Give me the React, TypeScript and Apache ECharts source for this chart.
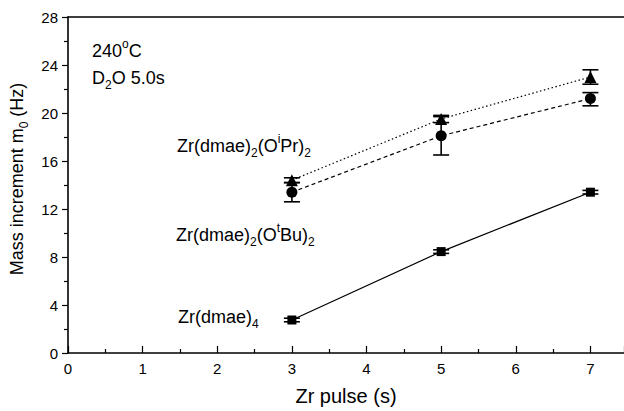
import React, { useEffect, useRef } from "react";
import * as echarts from "echarts";

const pulses = [3, 5, 7];
const oiprValues = [14.4, 19.5, 23.0];
const oiprErrLow = [14.2, 19.2, 22.4];
const oiprErrHigh = [14.6, 19.8, 23.6];
const otbuValues = [13.4, 18.1, 21.2];
const otbuErrLow = [12.6, 16.5, 20.6];
const otbuErrHigh = [14.2, 19.7, 21.7];
const dmaeValues = [2.75, 8.45, 13.4];
const dmaeErrLow = [2.6, 8.3, 13.25];
const dmaeErrHigh = [2.9, 8.6, 13.55];
const yTicks = [0, 4, 8, 12, 16, 20, 24, 28];
const xTicks = [0, 1, 2, 3, 4, 5, 6, 7];

const FONT = "Liberation Sans, Arial, sans-serif";

function errData(lo: number[], hi: number[]) {
  return pulses.map((x, i) => [x, lo[i], hi[i]]);
}

function errSeries(lo: number[], hi: number[]) {
  return {
    type: "custom",
    data: errData(lo, hi),
    z: 3,
    renderItem: (params: any, api: any) => {
      const x = api.value(0);
      const a = api.coord([x, api.value(1)]);
      const b = api.coord([x, api.value(2)]);
      const hw = 8;
      const style = { stroke: "#000", lineWidth: 1.6 };
      return {
        type: "group",
        children: [
          { type: "line", shape: { x1: a[0], y1: a[1], x2: b[0], y2: b[1] }, style },
          { type: "line", shape: { x1: a[0] - hw, y1: a[1], x2: a[0] + hw, y2: a[1] }, style },
          { type: "line", shape: { x1: b[0] - hw, y1: b[1], x2: b[0] + hw, y2: b[1] }, style },
        ],
      };
    },
  };
}

const rich = {
  n: { fontSize: 18, lineHeight: 18, fontFamily: FONT, fill: "#000", verticalAlign: "top", padding: [4, 0, 0, 0] },
  sub: { fontSize: 12, lineHeight: 12, fontFamily: FONT, fill: "#000", verticalAlign: "top", padding: [14, 0, 0, 0] },
  sup: { fontSize: 12, lineHeight: 12, fontFamily: FONT, fill: "#000", verticalAlign: "top", padding: [0, 0, 0, 0] },
};

export default function App() {
  const ref = useRef<HTMLDivElement>(null);
  useEffect(() => {
    if (!ref.current) return;
    const chart = echarts.init(ref.current, null, { renderer: "svg" });
    chart.setOption({
      animation: false,
      backgroundColor: "#fff",
      grid: { left: 68, top: 17, right: 0, bottom: 55 },
      xAxis: [
        {
          type: "value",
          min: 0,
          max: 7.45,
          interval: 1,
          name: "Zr pulse (s)",
          nameLocation: "middle",
          nameGap: 33,
          nameTextStyle: { fontSize: 20, fontFamily: FONT, color: "#000" },
          axisLine: { lineStyle: { color: "#000", width: 1.6 } },
          axisTick: { inside: true, length: 7, lineStyle: { color: "#000", width: 1.2 } },
          minorTick: { show: true, splitNumber: 2, length: 4, lineStyle: { color: "#000", width: 1.2 } },
          axisLabel: {
            fontSize: 15,
            fontFamily: FONT,
            color: "#000",
            margin: 8,
            showMaxLabel: false,
            formatter: (v: number) => (xTicks.includes(v) ? String(v) : ""),
          },
          splitLine: { show: false },
        },
        {
          type: "value",
          position: "top",
          min: 0,
          max: 7.45,
          axisLine: { show: true, onZero: false, lineStyle: { color: "#000", width: 1.6 } },
          axisTick: { show: false },
          axisLabel: { show: false },
          splitLine: { show: false },
        },
      ],
      yAxis: {
        type: "value",
        min: 0,
        max: 28,
        interval: 4,
        name: "Mass increment m{sub|0} (Hz)",
        nameLocation: "middle",
        nameGap: 36,
        nameTextStyle: {
          fontSize: 18,
          fontFamily: FONT,
          color: "#000",
          padding: [0, 0, 0, 12],
          rich: {
            sub: { fontSize: 12, fontFamily: FONT, color: "#000", padding: [14, 0, 0, 0] },
          },
        },
        axisLine: { show: true, lineStyle: { color: "#000", width: 1.6 } },
        axisTick: { inside: false, length: 6, lineStyle: { color: "#000", width: 1.2 } },
        minorTick: { show: true, splitNumber: 2, length: 4, lineStyle: { color: "#000", width: 1.2 } },
        axisLabel: {
          fontSize: 15,
          fontFamily: FONT,
          color: "#000",
          margin: 10,
          formatter: (v: number) => (yTicks.includes(v) ? String(v) : ""),
        },
        splitLine: { show: false },
      },
      series: [
        errSeries(oiprErrLow, oiprErrHigh),
        errSeries(otbuErrLow, otbuErrHigh),
        errSeries(dmaeErrLow, dmaeErrHigh),
        {
          type: "line",
          data: pulses.map((x, i) => [x, oiprValues[i]]),
          symbol: "triangle",
          symbolSize: 12,
          z: 4,
          itemStyle: { color: "#000" },
          lineStyle: { color: "#000", width: 1.2, type: [1.5, 2.5] },
        },
        {
          type: "line",
          data: pulses.map((x, i) => [x, otbuValues[i]]),
          symbol: "circle",
          symbolSize: 11,
          z: 4,
          itemStyle: { color: "#000" },
          lineStyle: { color: "#000", width: 1.2, type: [4, 3] },
        },
        {
          type: "line",
          data: pulses.map((x, i) => [x, dmaeValues[i]]),
          symbol: "rect",
          symbolSize: 9,
          z: 4,
          itemStyle: { color: "#000" },
          lineStyle: { color: "#000", width: 1.2 },
        },
      ],
      graphic: [
        {
          type: "text",
          left: 92,
          top: 38,
          style: { text: "{n|240}{sup|o}{n|C}", rich, fill: "#000" },
        },
        {
          type: "text",
          left: 92,
          top: 65,
          style: { text: "{n|D}{sub|2}{n|O 5.0s}", rich, fill: "#000" },
        },
        {
          type: "text",
          left: 177,
          top: 133,
          style: { text: "{n|Zr(dmae)}{sub|2}{n|(O}{sup|i}{n|Pr)}{sub|2}", rich, fill: "#000" },
        },
        {
          type: "text",
          left: 176,
          top: 222,
          style: { text: "{n|Zr(dmae)}{sub|2}{n|(O}{sup|t}{n|Bu)}{sub|2}", rich, fill: "#000" },
        },
        {
          type: "text",
          left: 178,
          top: 304,
          style: { text: "{n|Zr(dmae)}{sub|4}", rich, fill: "#000" },
        },
      ],
    });
    return () => chart.dispose();
  }, []);
  return <div ref={ref} style={{ width: 624, height: 411, position: "absolute", left: 0, top: 0 }} />;
}
